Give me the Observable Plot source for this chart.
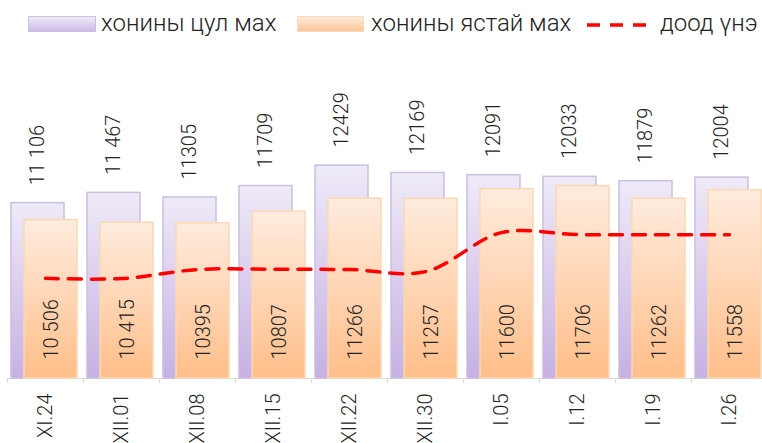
<!DOCTYPE html>
<html>
<head>
<meta charset="utf-8">
<script src="https://cdn.jsdelivr.net/npm/d3@7"></script>
<script src="https://cdn.jsdelivr.net/npm/@observablehq/plot@0.6"></script>
<style>
  body { margin: 0; background: #fff; font-family: Roboto, "Noto Sans", sans-serif; }
  #wrap { width: 762px; height: 443px; position: relative; overflow: hidden; }
  #legend { position: relative; height: 45px; font-size: 24px; font-weight: 300; color: #222; }
  #legend .sw { position: absolute; top: 16px; height: 16px; box-sizing: border-box; }
  #legend .lb { position: absolute; top: 8px; line-height: 30px; white-space: nowrap; }
  svg { display: block; }
</style>
</head>
<body>
<div id="wrap">
  <div id="legend">
    <div class="sw" style="left:28px;width:68px;background:linear-gradient(#EFEAF8,#CDBCE6);border:1.5px solid #CBBFDF;"></div>
    <div class="lb" style="left:101px;">хонины цул мах</div>
    <div class="sw" style="left:297px;width:67px;background:linear-gradient(#FFEBDC,#FFC596);border:1.5px solid #FCD9B8;"></div>
    <div class="lb" style="left:371px;">хонины ястай мах</div>
    <svg style="position:absolute;left:586px;top:15px;" width="64" height="20"><line x1="1" y1="10" x2="63" y2="10" stroke="#FF0000" stroke-width="3.5" stroke-dasharray="13,10"/></svg>
    <div class="lb" style="left:660px;">доод үнэ</div>
  </div>
  <div id="chart"></div>
</div>
<script>
const categories = ["XI.24", "XII.01", "XII.08", "XII.15", "XII.22", "XII.30", "I.05", "I.12", "I.19", "I.26"];
const tsulValues = [11106, 11467, 11305, 11709, 12429, 12169, 12091, 12033, 11879, 12004];
const tsulLabels = ["11 106", "11 467", "11305", "11709", "12429", "12169", "12091", "12033", "11879", "12004"];
const yastaiValues = [10506, 10415, 10395, 10807, 11266, 11257, 11600, 11706, 11262, 11558];
const yastaiLabels = ["10 506", "10 415", "10395", "10807", "11266", "11257", "11600", "11706", "11262", "11558"];
const minPrice = [8455, 8445, 8762, 8773, 8762, 8690, 10065, 9997, 9990, 9990];

const data = categories.map((c, i) => ({
  cat: c, tsul: tsulValues[i], tsulLabel: tsulLabels[i],
  yastai: yastaiValues[i], yastaiLabel: yastaiLabels[i], min: minPrice[i]
}));

const yBase = 4920;
const yTop = 4920 + 323 / 0.02835;

const defs = () => {
  const d = d3.create("svg:defs");
  const g1 = d.append("linearGradient").attr("id", "gp").attr("x1", 0).attr("y1", 0).attr("x2", 0).attr("y2", 1);
  g1.append("stop").attr("offset", "0%").attr("stop-color", "#EFEAF8");
  g1.append("stop").attr("offset", "100%").attr("stop-color", "#C6B1E2");
  const g2 = d.append("linearGradient").attr("id", "go").attr("x1", 0).attr("y1", 0).attr("x2", 0).attr("y2", 1);
  g2.append("stop").attr("offset", "0%").attr("stop-color", "#FFECDE");
  g2.append("stop").attr("offset", "100%").attr("stop-color", "#FFBE89");
  return d.node();
};

const font = { fontFamily: "Roboto, 'Noto Sans', sans-serif", fontSize: 20, fontWeight: 300, fill: "#222" };

const chart = Plot.plot({
  width: 762,
  height: 398,
  marginTop: 0,
  marginBottom: 65,
  marginLeft: 7,
  marginRight: 0,
  x: { type: "band", domain: categories, range: [7, 767], padding: 0, axis: null },
  y: { domain: [yBase, yTop], range: [333, 10], axis: null },
  marks: [
    defs,
    Plot.ruleY([yBase], { stroke: "#D9D9D9", strokeWidth: 1.2 }),
    Plot.ruleX(data, { x: "cat", dx: -38, y1: yBase, y2: yBase - 5 / 0.02835, stroke: "#D9D9D9", strokeWidth: 1.2 }),
    Plot.barY(data, { x: "cat", y1: yBase, y2: "tsul", fill: "url(#gp)", stroke: "#CBBFDF", strokeWidth: 1.5, insetLeft: 4, insetRight: 19 }),
    Plot.barY(data, { x: "cat", y1: yBase, y2: "yastai", fill: "url(#go)", stroke: "#FCD7B5", strokeWidth: 1.5, insetLeft: 17, insetRight: 6 }),
    Plot.line(data, { x: "cat", y: "min", stroke: "#FF0000", strokeWidth: 3.5, strokeDasharray: "13,10", curve: "catmull-rom" }),
    Plot.text(data, { x: "cat", y: "tsul", text: "tsulLabel", rotate: -90, textAnchor: "start", dx: -7.5, dy: -18, ...font }),
    Plot.text(data, { x: "cat", y: () => yBase, text: "yastaiLabel", rotate: -90, textAnchor: "start", dx: 6, dy: -19, ...font }),
    Plot.text(data, { x: "cat", y: () => yBase, text: "cat", rotate: -90, textAnchor: "end", dx: 0, dy: 15, ...font })
  ]
});
document.getElementById("chart").appendChild(chart);
</script>
</body>
</html>
